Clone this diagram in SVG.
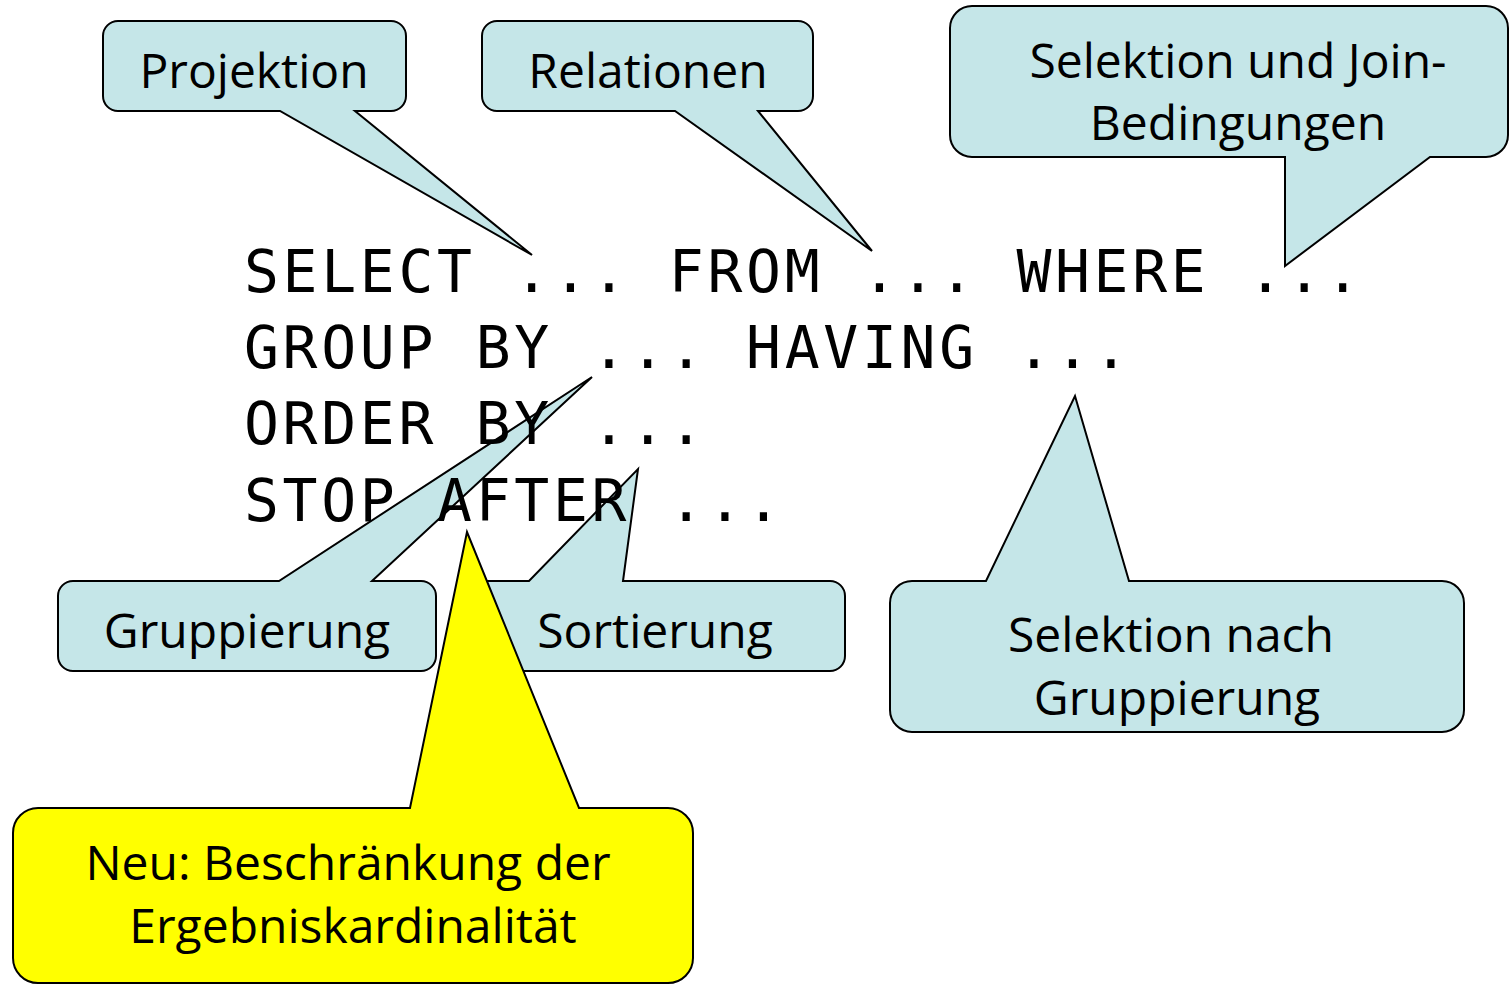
<svg xmlns="http://www.w3.org/2000/svg" width="1510" height="984" viewBox="0 0 1510 984">
<style>
.c{fill:#C5E6E8;stroke:#000;stroke-width:2;stroke-linejoin:miter}
.y{fill:#FFFF00;stroke:#000;stroke-width:2;stroke-linejoin:miter}
.t{font-family:"Open Sans","Noto Sans","Liberation Sans",sans-serif;font-size:48px;fill:#000;text-anchor:middle}
.m{font-family:"DejaVu Sans Mono","Liberation Mono",monospace;font-size:58px;letter-spacing:3.7px;fill:#000}
</style>
<rect width="1510" height="984" fill="#fff"/>
<g id="projektion">
<path class="c" d="M118,21 H391 A15,15 0 0 1 406,36 V96 A15,15 0 0 1 391,111 H355 L532,255 L280,111 H118 A15,15 0 0 1 103,96 V36 A15,15 0 0 1 118,21 Z"/>
<text class="t" x="254" y="88">Projektion</text>
</g>
<g id="relationen">
<path class="c" d="M497,21 H798 A15,15 0 0 1 813,36 V96 A15,15 0 0 1 798,111 H758 L872,251 L675,111 H497 A15,15 0 0 1 482,96 V36 A15,15 0 0 1 497,21 Z"/>
<text class="t" x="648" y="88">Relationen</text>
</g>
<g id="selektion-join">
<path class="c" d="M972,6 H1486 A22,22 0 0 1 1508,28 V135 A22,22 0 0 1 1486,157 H1430 L1285,266 L1285,157 H972 A22,22 0 0 1 950,135 V28 A22,22 0 0 1 972,6 Z"/>
<text class="t" x="1238" y="78">Selektion und Join-</text>
<text class="t" x="1238" y="140">Bedingungen</text>
</g>
<g id="gruppierung">
<path class="c" d="M73,581 H279 L592,377 L372,581 H421 A15,15 0 0 1 436,596 V656 A15,15 0 0 1 421,671 H73 A15,15 0 0 1 58,656 V596 A15,15 0 0 1 73,581 Z"/>
<text class="t" x="247" y="648">Gruppierung</text>
</g>
<g id="sortierung">
<path class="c" d="M481,581 H529 L638,469 L623,581 H830 A15,15 0 0 1 845,596 V656 A15,15 0 0 1 830,671 H481 A15,15 0 0 1 466,656 V596 A15,15 0 0 1 481,581 Z"/>
<text class="t" x="655" y="648">Sortierung</text>
</g>
<g id="selektion-gruppierung">
<path class="c" d="M912,581 H986 L1075,396 L1129,581 H1442 A22,22 0 0 1 1464,603 V710 A22,22 0 0 1 1442,732 H912 A22,22 0 0 1 890,710 V603 A22,22 0 0 1 912,581 Z"/>
<text class="t" x="1171" y="652">Selektion nach</text>
<text class="t" x="1177" y="715">Gruppierung</text>
</g>
<g id="neu">
<path class="y" d="M38,808 H410 L467,532 L579,808 H668 A25,25 0 0 1 693,833 V958 A25,25 0 0 1 668,983 H38 A25,25 0 0 1 13,958 V833 A25,25 0 0 1 38,808 Z"/>
<text class="t" x="348" y="880">Neu: Beschränkung der</text>
<text class="t" x="353" y="943">Ergebniskardinalität</text>
</g>
<g id="sql">
<text class="m" x="244" y="292" xml:space="preserve">SELECT ... FROM ... WHERE ...</text>
<text class="m" x="244" y="368" xml:space="preserve">GROUP BY ... HAVING ...</text>
<text class="m" x="244" y="444" xml:space="preserve">ORDER BY ...</text>
<text class="m" x="244" y="521" xml:space="preserve">STOP AFTER ...</text>
</g>
</svg>
